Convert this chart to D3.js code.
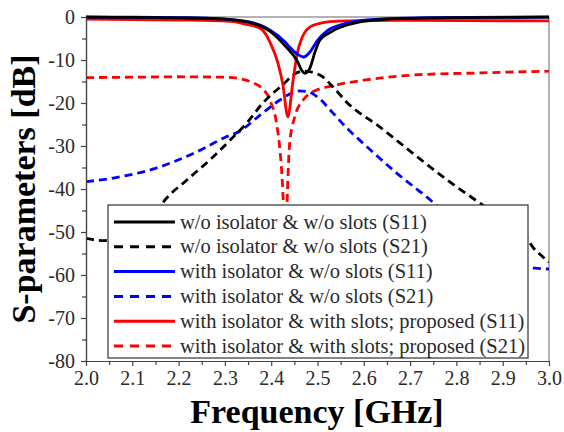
<!DOCTYPE html>
<html><head><meta charset="utf-8">
<script src="https://cdn.jsdelivr.net/npm/d3@7"></script>
<style>html,body{margin:0;padding:0;background:#fff;}svg{display:block;}</style>
</head><body>
<svg id="chart" width="564" height="432"></svg>
<script>
// ---- data (frequency in GHz, value in dB) ----
const xTicks = [2.0, 2.1, 2.2, 2.3, 2.4, 2.5, 2.6, 2.7, 2.8, 2.9, 3.0];
const yTicks = [0, -10, -20, -30, -40, -50, -60, -70, -80];

const s11_noIso_noSlot = [[2.0,-0.05],[2.1,-0.1],[2.2,-0.2],[2.3,-0.5],[2.35,-1.2],[2.376,-2.0],[2.397,-3.3],[2.43,-6.7],[2.456,-10.2],[2.467,-12.6],[2.473,-13.1],[2.484,-11.8],[2.495,-8.0],[2.505,-5.4],[2.527,-3.6],[2.549,-2.4],[2.58,-1.4],[2.607,-0.9],[2.65,-0.5],[2.706,-0.3],[2.8,-0.15],[3.0,-0.05]];
const s21_noIso_noSlot = [[2.0,-51.5],[2.04,-52],[2.08,-51],[2.12,-48.5],[2.15,-45.5],[2.171,-42.5],[2.218,-37.9],[2.275,-32.5],[2.318,-27.9],[2.347,-24.7],[2.382,-20.0],[2.404,-17.7],[2.425,-15.8],[2.447,-13.5],[2.47,-12.6],[2.505,-13.5],[2.533,-16.2],[2.563,-19.8],[2.635,-25.6],[2.706,-31.7],[2.78,-37.9],[2.851,-43.3],[2.9,-47],[2.95,-51],[2.965,-53.5],[2.987,-55.8],[3.0,-57]];
const s11_iso_noSlot = [[2.0,0],[2.1,-0.05],[2.2,-0.15],[2.3,-0.5],[2.35,-1.1],[2.397,-3.0],[2.43,-5.8],[2.44,-7.0],[2.456,-8.6],[2.47,-9.3],[2.484,-8.1],[2.499,-5.6],[2.52,-3.3],[2.527,-2.8],[2.542,-2.1],[2.58,-1.0],[2.65,-0.4],[2.75,-0.15],[3.0,0]];
const s21_iso_noSlot = [[2.0,-38.3],[2.05,-37.6],[2.1,-36.6],[2.15,-35.2],[2.2,-33.2],[2.25,-30.8],[2.3,-28.0],[2.333,-26.5],[2.376,-22.8],[2.419,-19.3],[2.44,-17.9],[2.46,-17.2],[2.48,-17.4],[2.5,-18.6],[2.533,-22.3],[2.563,-25.8],[2.6,-29.5],[2.671,-36.3],[2.743,-42.5],[2.8,-48],[2.85,-52.5],[2.9,-56],[2.95,-58],[2.97,-58.4],[3.0,-58.6]];
const s11_proposed = [[2.0,-0.5],[2.2,-0.7],[2.311,-1.0],[2.35,-1.8],[2.376,-2.6],[2.39,-4.3],[2.397,-5.8],[2.415,-10.9],[2.425,-15.6],[2.436,-23.2],[2.447,-14.9],[2.456,-8.6],[2.467,-4.7],[2.484,-2.3],[2.505,-1.5],[2.527,-1.1],[2.563,-0.9],[2.7,-0.8],[3.0,-0.9]];
const s21_proposed = [[2.0,-14.1],[2.1,-14.0],[2.2,-13.9],[2.3,-14.0],[2.33,-14.3],[2.361,-15.3],[2.376,-16.2],[2.397,-19.3],[2.412,-25],[2.419,-31],[2.423,-36.5],[2.426,-43],[2.428,-52],[2.431,-60],[2.434,-45],[2.437,-35],[2.44,-29.3],[2.451,-23.2],[2.469,-19.3],[2.49,-17.4],[2.533,-16.0],[2.57,-15.2],[2.6,-14.7],[2.706,-13.5],[2.851,-13.0],[3.0,-12.6]];

const seriesNames = [
  "w/o isolator & w/o slots (S11)",
  "w/o isolator & w/o slots (S21)",
  "with isolator & w/o slots (S11)",
  "with isolator & w/o slots (S21)",
  "with isolator & with slots; proposed (S11)",
  "with isolator & with slots; proposed (S21)"
];
const seriesData = [s11_noIso_noSlot, s21_noIso_noSlot, s11_iso_noSlot, s21_iso_noSlot, s11_proposed, s21_proposed];
const seriesColors = ["#000000","#000000","#0000ff","#0000ff","#ff0000","#ff0000"];
const seriesDashed = [false, true, false, true, false, true];

// ---- layout ----
const L = 86, R = 549, T = 17, B = 361;
const svg = d3.select("#chart");
const x = d3.scaleLinear().domain([2.0, 3.0]).range([L, R]);
const y = d3.scaleLinear().domain([-80, 0]).range([B, T]);
const axisColor = "#444";
const textColor = "#2a2a2a";
const font = "'Liberation Serif','Times New Roman',serif";

svg.append("defs").append("clipPath").attr("id","clip")
  .append("rect").attr("x",L).attr("y",T-2).attr("width",R-L).attr("height",B-T+2);

// frame (top & right)
svg.append("line").attr("x1",L).attr("x2",R).attr("y1",T).attr("y2",T).attr("stroke","#666").attr("stroke-width",1);
svg.append("line").attr("x1",R).attr("x2",R).attr("y1",T).attr("y2",B).attr("stroke","#666").attr("stroke-width",1);

// curves
const line = d3.line().x(d=>x(d[0])).y(d=>y(d[1])).curve(d3.curveMonotoneX);
const g = svg.append("g").attr("clip-path","url(#clip)");
const order = [5,3,1,4,2,0];
order.forEach(i=>{
  g.append("path").datum(seriesData[i]).attr("d",line)
    .attr("fill","none").attr("stroke",seriesColors[i]).attr("stroke-width",2.8)
    .attr("stroke-dasharray",seriesDashed[i]?"8,5":null);
});

// axes
function styleAxis(sel){
  sel.attr("font-family",font).attr("font-size",20);
  sel.selectAll("path.domain").attr("stroke",axisColor).attr("stroke-width",1.2);
  sel.selectAll(".tick line").attr("stroke",axisColor).attr("stroke-width",1.2);
  sel.selectAll(".tick text").attr("fill",textColor).attr("font-family",font).attr("font-size",20);
}
const xMinor = d3.range(2.05, 3.0, 0.1);
const yMinor = d3.range(-75, 0, 10);
svg.append("g").attr("transform",`translate(0,${B})`)
  .call(d3.axisBottom(x).tickValues(xMinor).tickSize(4).tickFormat("").tickSizeOuter(0))
  .call(styleAxis);
svg.append("g").attr("transform",`translate(${L},0)`)
  .call(d3.axisLeft(y).tickValues(yMinor).tickSize(4).tickFormat("").tickSizeOuter(0))
  .call(styleAxis);
svg.append("g").attr("transform",`translate(0,${B})`)
  .call(d3.axisBottom(x).tickValues(xTicks).tickSize(5).tickPadding(5).tickFormat(d3.format(".1f")).tickSizeOuter(0))
  .call(styleAxis);
svg.append("g").attr("transform",`translate(${L},0)`)
  .call(d3.axisLeft(y).tickValues(yTicks).tickSize(5).tickPadding(6).tickFormat(d=>d===0?"0":"-"+Math.abs(d)).tickSizeOuter(0))
  .call(styleAxis);

// titles
svg.append("text").attr("x",317).attr("y",423).attr("text-anchor","middle")
  .attr("font-family",font).attr("font-weight","bold").attr("font-size",34).attr("fill","#000")
  .text("Frequency [GHz]");
svg.append("text").attr("transform","translate(35,189) rotate(-90)").attr("text-anchor","middle")
  .attr("font-family",font).attr("font-weight","bold").attr("font-size",34).attr("fill","#000")
  .text("S-parameters [dB]");

// legend
const lg = svg.append("g");
lg.append("rect").attr("x",108).attr("y",205).attr("width",420).attr("height",153)
  .attr("fill","#fff").attr("stroke","#333").attr("stroke-width",1.2);
seriesNames.forEach((name,i)=>{
  const cy = 222 + i*24.8;
  lg.append("line").attr("x1",114).attr("x2",175).attr("y1",cy).attr("y2",cy)
    .attr("stroke",seriesColors[i]).attr("stroke-width",3)
    .attr("stroke-dasharray",seriesDashed[i]?"9,7":null);
  lg.append("text").attr("x",180).attr("y",cy+6.5).attr("font-family",font).attr("font-size",20.5)
    .attr("fill",textColor).text(name);
});
</script>
</body></html>
